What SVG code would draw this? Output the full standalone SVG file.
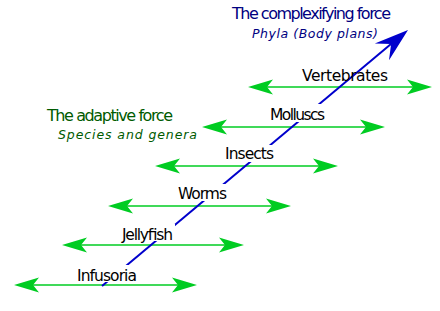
<svg xmlns="http://www.w3.org/2000/svg" width="440" height="311" viewBox="0 0 440 311">
<style>
.lbl{font-family:"DejaVu Sans",sans-serif;font-size:15.5px;fill:#000}
.ttl{font-family:"DejaVu Sans",sans-serif;font-size:16px}
.sub{font-family:"DejaVu Sans",sans-serif;font-size:12.5px;font-style:italic}
.blue{fill:#000080}
.green{fill:#005a00}
.garrow{stroke:#00cc22;stroke-width:1.6;fill:none;marker-start:url(#gh);marker-end:url(#gh)}
.bg{fill:#fff}
</style>
<defs>
<marker id="gh" markerUnits="userSpaceOnUse" markerWidth="26" markerHeight="15" refX="6" refY="7" orient="auto-start-reverse" overflow="visible">
<path d="M25,7 L0,-0.5 L6,7 L0,14.5 Z" fill="#00cc22"/>
</marker>
</defs>
<rect width="440" height="311" fill="#fff"/>
<g id="connectors">
<line class="garrow" x1="33" y1="285" x2="178" y2="285"/>
<line class="garrow" x1="81" y1="245" x2="225" y2="245"/>
<line class="garrow" x1="127" y1="206" x2="272" y2="206"/>
<line class="garrow" x1="174" y1="166" x2="319" y2="166"/>
<line class="garrow" x1="221" y1="127" x2="366" y2="127"/>
<line class="garrow" x1="267" y1="87" x2="413" y2="87"/>
<line x1="102" y1="286" x2="391" y2="44" stroke="#0000cc" stroke-width="2"/>
<path d="M408,30 L374.8,43.4 L391.1,44.1 L389,60.2 Z" fill="#0000cc"/>
</g>
<g id="title-complexifying">
<text class="ttl blue" x="232" y="19" textLength="159" lengthAdjust="spacing">The complexifying force</text>
<text class="sub blue" x="252" y="38" textLength="126" lengthAdjust="spacing">Phyla (Body plans)</text>
</g>
<g id="title-adaptive">
<text class="ttl green" x="47" y="121" textLength="126" lengthAdjust="spacing">The adaptive force</text>
<text class="sub green" x="58" y="139" textLength="139" lengthAdjust="spacing">Species and genera</text>
</g>
<g id="infusoria">
<rect class="bg" x="75" y="265" width="64" height="17"/>
<text class="lbl" x="77" y="281" textLength="60" lengthAdjust="spacing">Infusoria</text>
</g>
<g id="jellyfish">
<rect class="bg" x="120" y="224" width="55" height="17"/>
<text class="lbl" x="122" y="240" textLength="51" lengthAdjust="spacing">Jellyfish</text>
</g>
<g id="worms">
<rect class="bg" x="176" y="184" width="53" height="17"/>
<text class="lbl" x="178" y="199" textLength="49" lengthAdjust="spacing">Worms</text>
</g>
<g id="insects">
<rect class="bg" x="223" y="145" width="53" height="17"/>
<text class="lbl" x="225" y="159" textLength="49" lengthAdjust="spacing">Insects</text>
</g>
<g id="molluscs">
<rect class="bg" x="268" y="104" width="59" height="18"/>
<text class="lbl" x="270" y="120" textLength="55" lengthAdjust="spacing">Molluscs</text>
</g>
<g id="vertebrates">
<text class="lbl" x="302" y="81" textLength="86" lengthAdjust="spacing">Vertebrates</text>
</g>
</svg>
